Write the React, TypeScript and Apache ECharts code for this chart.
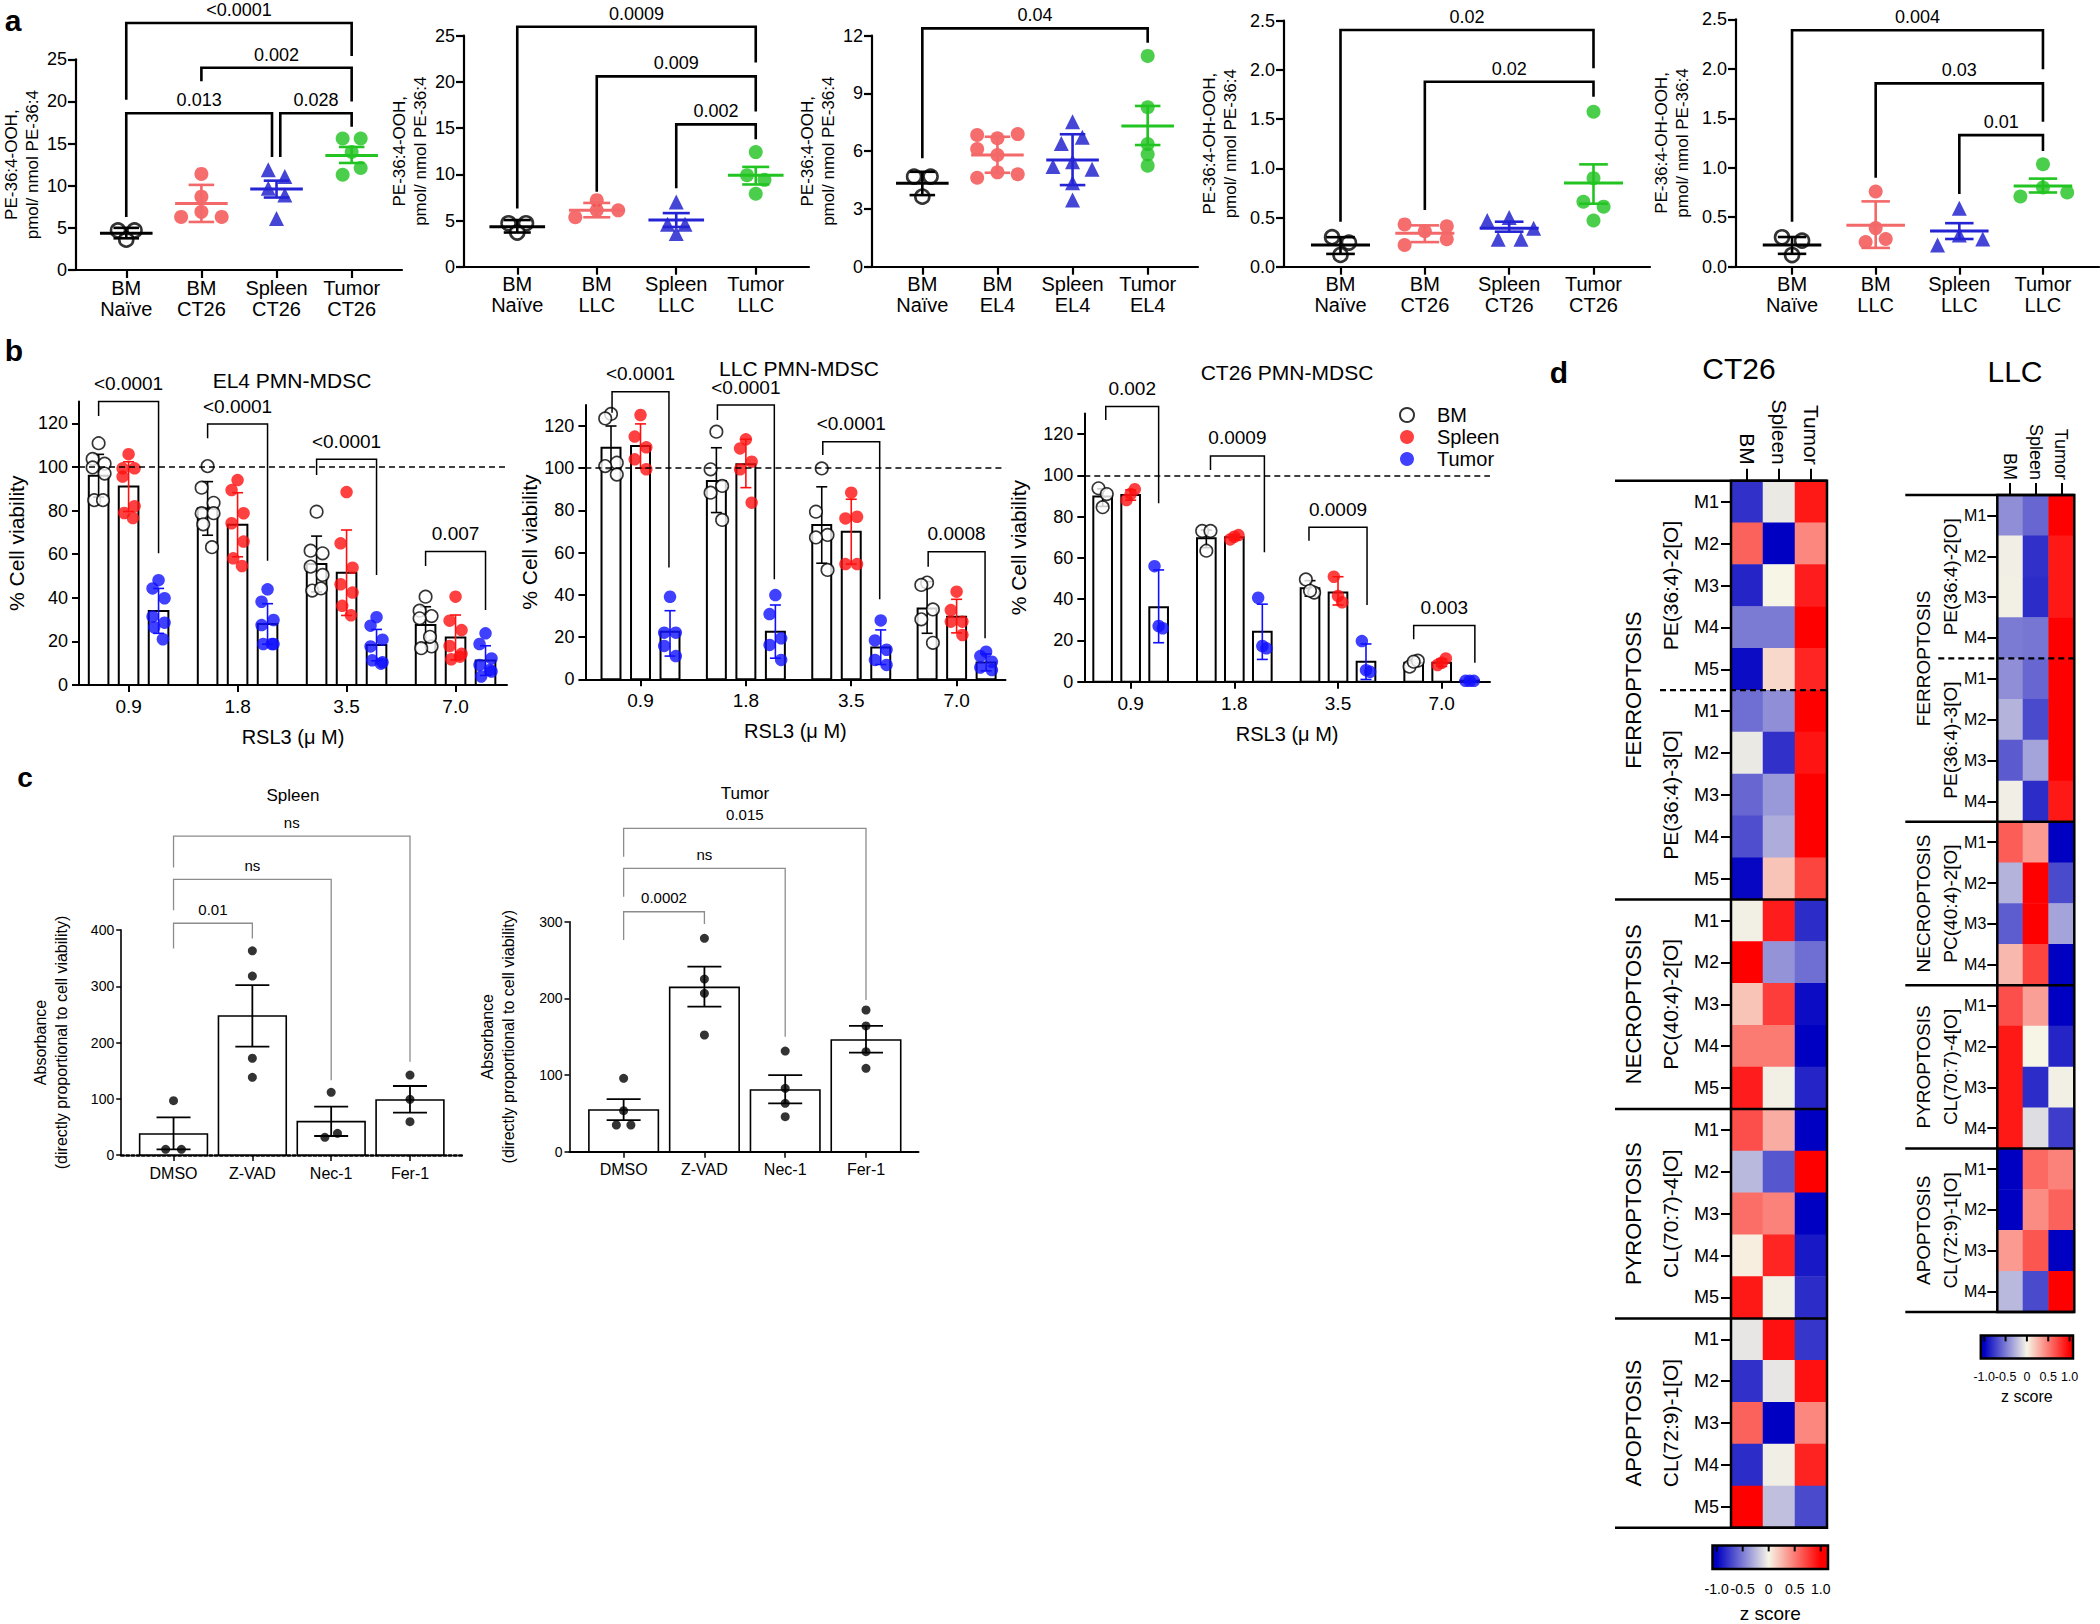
import React, { useEffect, useRef } from 'react';
import * as echarts from 'echarts';

const FF = '"Liberation Sans", Arial, Helvetica, sans-serif';
const font = (size: number, weight: string = 'normal') => `${weight} ${size}px ${FF}`;

// ================= Panel a data =================
const a1Cats = ['BM\nNaïve', 'BM\nCT26', 'Spleen\nCT26', 'Tumor\nCT26'];
const a1Points = [[4.7, 4.7, 3.6], [11.4, 8.7, 6.3, 6.9, 6.3], [11.9, 11.1, 9.7, 8.9, 6.1], [15.6, 15.6, 14.0, 11.3, 12.1]];
const a1Jitter = [[-0.11, 0.11, 0], [0, 0, -0.27, 0, 0.27], [-0.11, 0.11, -0.11, 0.11, 0], [-0.12, 0.12, 0, -0.12, 0.12]];
const a1Mean = [4.35, 7.9, 9.6, 13.6];
const a1Hi = [5.0, 10.1, 10.6, 14.6];
const a1Lo = [3.76, 5.7, 8.6, 12.7];
const a1Brackets = [[0, 3, 29.3, 20.2, 25.4], [1, 3, 24.0, 22.4, 20.0], [0, 1.94, 18.6, 6.3, 13.4], [2.05, 3, 18.6, 13.4, 17.0]];
const a1BracketLabels = ['<0.0001', '0.002', '0.013', '0.028'];

const a2Cats = ['BM\nNaïve', 'BM\nLLC', 'Spleen\nLLC', 'Tumor\nLLC'];
const a2Points = [[4.7, 4.7, 3.7], [5.35, 7.2, 6.1, 6.1], [7.0, 4.6, 4.6, 3.6], [12.4, 9.9, 9.4, 7.9]];
const a2Jitter = [[-0.11, 0.11, 0], [-0.27, 0, 0, 0.27], [0, -0.11, 0.11, 0], [0, -0.11, 0.11, 0]];
const a2Mean = [4.33, 6.1, 5.05, 9.9];
const a2Hi = [5.05, 6.9, 5.8, 10.8];
const a2Lo = [3.7, 5.35, 4.3, 8.9];
const a2Brackets = [[0, 3, 25.97, 6.3, 22.1], [1, 3, 20.6, 8.1, 16.8], [2, 3, 15.4, 8.5, 13.8]];
const a2BracketLabels = ['0.0009', '0.009', '0.002'];

const a3Cats = ['BM\nNaïve', 'BM\nEL4', 'Spleen\nEL4', 'Tumor\nEL4'];
const a3Points = [[4.68, 4.68, 3.64], [6.84, 6.67, 6.89, 6.11, 5.8, 4.62, 4.9, 4.8], [7.53, 6.4, 6.72, 5.2, 5.45, 5.06, 4.36, 3.46], [10.95, 8.28, 6.37, 5.84, 5.25]];
const a3Jitter = [[-0.11, 0.11, 0], [-0.27, 0, 0.27, -0.27, 0, -0.27, 0, 0.27], [0, -0.15, 0.13, -0.26, 0, 0.26, 0, 0], [0, 0, 0, 0, 0]];
const a3Mean = [4.33, 5.8, 5.54, 7.31];
const a3Hi = [4.93, 6.75, 6.88, 8.35];
const a3Lo = [3.72, 4.88, 4.24, 6.32];
const a3Brackets = [[0, 3, 12.38, 5.63, 11.64]];
const a3BracketLabels = ['0.04'];

const a4Cats = ['BM\nNaïve', 'BM\nCT26', 'Spleen\nCT26', 'Tumor\nCT26'];
const a4Points = [[0.30, 0.245, 0.12], [0.43, 0.22, 0.36, 0.41, 0.28], [0.47, 0.50, 0.39, 0.28, 0.28], [1.575, 0.90, 0.66, 0.61, 0.47]];
const a4Jitter = [[-0.1, 0.1, 0], [-0.24, -0.24, 0, 0.26, 0.26], [-0.26, 0, 0.29, -0.13, 0.14], [0, 0, -0.12, 0.12, 0]];
const a4Mean = [0.22, 0.34, 0.39, 0.85];
const a4Hi = [0.30, 0.42, 0.457, 1.04];
const a4Lo = [0.13, 0.25, 0.356, 0.64];
const a4Brackets = [[0, 3, 2.405, 0.457, 2.016], [1, 3, 1.88, 0.576, 1.728]];
const a4BracketLabels = ['0.02', '0.02'];

const a5Cats = ['BM\nNaïve', 'BM\nLLC', 'Spleen\nLLC', 'Tumor\nLLC'];
const a5Points = [[0.297, 0.263, 0.118], [0.76, 0.39, 0.25, 0.28], [0.59, 0.32, 0.22, 0.28], [1.035, 0.80, 0.71, 0.75]];
const a5Jitter = [[-0.12, 0.12, 0], [0, 0, -0.12, 0.12], [0, 0, -0.26, 0.28], [0, 0, -0.27, 0.29]];
const a5Mean = [0.22, 0.42, 0.36, 0.815];
const a5Hi = [0.30, 0.66, 0.44, 0.89];
const a5Lo = [0.13, 0.19, 0.28, 0.75];
const a5Brackets = [[0, 3, 2.39, 0.455, 1.995], [1, 3, 1.853, 0.90, 1.465], [2, 3, 1.33, 0.735, 1.17]];
const a5BracketLabels = ['0.004', '0.03', '0.01'];

// ================= Panel b data =================
const bDoses = ['0.9', '1.8', '3.5', '7.0'];
const bGroups = ['BM', 'Spleen', 'Tumor'];

const b1Points = [
  [[110.9, 103.7, 101.5, 99.8, 97, 84.8, 84.8], [100.4, 90.5, 83.6, 78.8, 78.8, 73.7, 63.2], [79.5, 61.6, 60.4, 54.3, 50.5, 43.3, 44.3], [40.5, 34.1, 31.6, 30.6, 17.7, 16.9, 22.1]],
  [[105.9, 99.4, 99.4, 95.6, 82, 78.9, 76.6], [94, 89.4, 78.8, 74.2, 65.8, 58.1, 54.6], [88.5, 65, 53.8, 46.2, 42.4, 36.3, 32], [40.5, 29.5, 25.2, 17.9, 14.3, 11.8, 13]],
  [[48.1, 44.3, 39.8, 31.4, 28.6, 26.5, 21], [43.9, 38.2, 29.8, 27.5, 18.8, 18.8, 18.8], [31.1, 27.2, 20.8, 17.7, 10.4, 11.3, 9.8], [23.7, 18.8, 12.2, 9.2, 6.2, 3.9, 6.9]],
];
const b1Mean = [[96, 81, 55.5, 27.5], [91, 73.5, 51.5, 21.8], [34, 28, 18.3, 11.2]];
const b1Hi = [[105.8, 93.3, 68.3, 35.9], [102.4, 88.2, 71.1, 32.1], [44.3, 37.3, 25.5, 18]];
const b1Lo = [[86.2, 68.7, 42.7, 19.1], [79.6, 58.8, 31.9, 11.5], [23.7, 18.7, 11.1, 4.4]];
const b1Brackets = [[-0.275, 0.275, 130, 123.4, 60.4], [0.725, 1.275, 119.7, 113.2, 57], [1.725, 2.275, 103.5, 96.3, 50.5], [2.725, 3.275, 61.2, 54.6, 34.4]];
const b1BracketLabels = ['<0.0001', '<0.0001', '<0.0001', '0.007'];

const b2Points = [
  [[125.7, 123.6, 102.6, 101, 97], [117.3, 99.5, 91.6, 88.4, 75.5], [99.9, 79.4, 68.4, 67.2, 51.8], [45.8, 44.7, 33.1, 28.4, 17.3]],
  [[125.2, 115, 109.9, 104.2, 99.5], [113.7, 109.4, 103.1, 99.5, 83.7], [88.4, 76.2, 77, 54.6, 54.6], [41.5, 32.8, 27.3, 27.3, 21]],
  [[39.1, 22.1, 22.1, 15.8, 11], [39.9, 30.9, 19.4, 16.3, 9.2], [27.9, 18.4, 14, 9.2, 6.8], [13.1, 11, 4.4, 5.6, 8.3]],
];
const b2Mean = [[109.7, 93.9, 73.1, 33.6], [110.5, 101.9, 69.9, 29.6], [22.5, 22.5, 15.1, 7.9]];
const b2Hi = [[120, 109.7, 91.2, 46.3], [121, 113.7, 85.3, 37.9], [32.5, 35.2, 23.4, 12]];
const b2Lo = [[99.4, 79, 55, 21.8], [100, 90.8, 54.6, 22], [11, 10, 7, 4]];
const b2Brackets = [[-0.27, 0.27, 136.2, 126.3, 53], [0.73, 1.27, 129.9, 122.8, 47.4], [1.73, 2.27, 112.6, 106.3, 37.9], [2.73, 3.27, 60.4, 53.3, 19.4]];
const b2BracketLabels = ['<0.0001', '<0.0001', '<0.0001', '0.0008'];

const b3Points = [
  [[93.8, 91, 84.6], [73.1, 73.1, 63.5], [49.6, 43.2, 44.1], [7.3, 10.2, 9.7]],
  [[88.1, 93.3, 91], [69, 71.1, 70.3], [50.9, 38.5, 41.6], [8.1, 11.3, 9.2]],
  [[56, 25.9, 27], [40.7, 16.2, 17.3], [19.7, 4.8, 5.6], [0.4, 0.4, 0.4]],
];
const b3Mean = [[89.8, 69.5, 45.3, 9.2], [90.5, 70, 43.3, 9.2], [36.1, 24.2, 9.7, 0.5]];
const b3Hi = [[93.5, 73.5, 49, 10.8], [93, 71.2, 50.9, 11], [54.2, 37.6, 18.3, 0.6]];
const b3Lo = [[85, 65, 41.5, 7.6], [88, 68.8, 37.2, 7.4], [18.9, 10.8, 1.1, 0.3]];
const b3Brackets = [[-0.24, 0.27, 133.4, 126.9, 86.5], [0.77, 1.29, 109.5, 102.7, 62.8], [1.72, 2.28, 74.9, 68.4, 37.2], [2.73, 3.32, 27.2, 20.6, 9.2]];
const b3BracketLabels = ['0.002', '0.0009', '0.0009', '0.003'];

// ================= Panel c data =================
const cCats = ['DMSO', 'Z-VAD', 'Nec-1', 'Fer-1'];
const c1Mean = [37.3, 247, 59.3, 97.8];
const c1Hi = [67, 302, 86, 122.7];
const c1Lo = [10, 192.6, 33.8, 75.3];
const c1Points = [[96.6, 10, 10], [363, 318, 172, 138], [111.4, 31.4, 38.5], [142, 99, 59.3]];
const c1Jitter = [[0, -0.1, 0.1], [0, 0, 0, 0], [0, -0.08, 0.08], [0, 0, 0]];
const c1Brackets = [[0, 3, 567, 511, 166], [0, 2, 490, 435, 133], [0, 1, 412, 367, 385]];
const c1BracketLabels = ['ns', 'ns', '0.01'];

const c2Mean = [54.4, 214.4, 80.5, 145.7];
const c2Hi = [68.7, 241.3, 100, 164];
const c2Lo = [41.3, 189.1, 63.1, 129.2];
const c2Points = [[95.7, 53.5, 34.8, 34.8], [278.3, 225.2, 206.6, 152.2], [131.3, 82.6, 63.1, 45.7], [184.8, 164, 130.4, 108.7]];
const c2Jitter = [[0, 0, -0.09, 0.09], [0, 0, 0, 0], [0, 0, 0, 0], [0, 0, 0, 0]];
const c2Brackets = [[0, 3, 421.8, 384.8, 197.9], [0, 2, 369.6, 332.6, 150], [0, 1, 313, 276, 297]];
const c2BracketLabels = ['0.015', 'ns', '0.0002'];

// ================= Panel d data =================
const hmCols = ['BM', 'Spleen', 'Tumor'];
const ct26Rows = ['M1', 'M2', 'M3', 'M4', 'M5', 'M1', 'M2', 'M3', 'M4', 'M5', 'M1', 'M2', 'M3', 'M4', 'M5', 'M1', 'M2', 'M3', 'M4', 'M5', 'M1', 'M2', 'M3', 'M4', 'M5'];
const ct26Values = [
  [-0.8, -0.05, 0.9], [0.6, -1.0, 0.45], [-0.85, 0.0, 0.88], [-0.5, -0.5, 1.0], [-0.95, 0.12, 0.85],
  [-0.55, -0.42, 1.0], [-0.05, -0.8, 0.92], [-0.58, -0.38, 1.0], [-0.68, -0.3, 1.0], [-0.97, 0.2, 0.72],
  [-0.02, 0.88, -0.82], [1.0, -0.4, -0.55], [0.2, 0.75, -0.95], [0.5, 0.5, -1.0], [0.88, -0.02, -0.85],
  [0.68, 0.3, -1.0], [-0.25, -0.65, 1.0], [0.55, 0.47, -1.0], [0.03, 0.85, -0.9], [0.9, -0.02, -0.82],
  [-0.06, 0.93, -0.78], [-0.8, -0.06, 0.93], [0.6, -1.0, 0.45], [-0.82, -0.03, 0.86], [1.0, -0.22, -0.7],
];
const ct26Groups: any[] = [
  [0, 10, 'FERROPTOSIS', 1], [10, 15, 'NECROPTOSIS', 1], [15, 20, 'PYROPTOSIS', 1], [20, 25, 'APOPTOSIS', 1],
  [0, 5, 'PE(36:4)-2[O]', 2], [5, 10, 'PE(36:4)-3[O]', 2], [10, 15, 'PC(40:4)-2[O]', 2], [15, 20, 'CL(70:7)-4[O]', 2], [20, 25, 'CL(72:9)-1[O]', 2],
];
const ct26Solid = [0, 10, 15, 20, 25];
const ct26Dashed = [5];

const llcRows = ['M1', 'M2', 'M3', 'M4', 'M1', 'M2', 'M3', 'M4', 'M1', 'M2', 'M3', 'M4', 'M1', 'M2', 'M3', 'M4', 'M1', 'M2', 'M3', 'M4'];
const llcValues = [
  [-0.42, -0.58, 1.0], [-0.03, -0.8, 0.9], [-0.02, -0.82, 0.9], [-0.5, -0.52, 1.0],
  [-0.42, -0.58, 1.0], [-0.27, -0.7, 1.0], [-0.63, -0.33, 1.0], [-0.03, -0.82, 0.9],
  [0.62, 0.37, -1.0], [-0.27, 1.0, -0.7], [-0.62, 1.0, -0.33], [0.25, 0.72, -1.0],
  [0.68, 0.35, -1.0], [0.9, 0.0, -0.85], [0.9, -0.82, -0.02], [0.9, -0.1, -0.75],
  [-1.0, 0.57, 0.47], [-1.0, 0.43, 0.6], [0.37, 0.65, -1.0], [-0.25, -0.7, 1.0],
];
const llcGroups: any[] = [
  [0, 8, 'FERROPTOSIS', 1], [8, 12, 'NECROPTOSIS', 1], [12, 16, 'PYROPTOSIS', 1], [16, 20, 'APOPTOSIS', 1],
  [0, 4, 'PE(36:4)-2[O]', 2], [4, 8, 'PE(36:4)-3[O]', 2], [8, 12, 'PC(40:4)-2[O]', 2], [12, 16, 'CL(70:7)-4[O]', 2], [16, 20, 'CL(72:9)-1[O]', 2],
];
const llcSolid = [0, 8, 12, 16, 20];
const llcDashed = [4];
const zTicks = [-1, -0.5, 0, 0.5, 1];

// ================= styles / layout =================
const A_COLORS = ['#000000', '#f24848', '#1616cc', '#1ec21e'];
const A_LINE_COLORS = ['#000000', '#f36868', '#2424d4', '#22c422'];
const A_SYMBOLS = ['circle', 'circle', 'triangle', 'circle'];
const A_XMIN = -0.67;
const A_XMAX = 3.67;
const A_LAYOUT = [
  { left: 75, top: 59.3, width: 327, height: 210.7, nameGap: 32 },
  { left: 464, top: 35.7, width: 345, height: 231, nameGap: 32 },
  { left: 872, top: 35.7, width: 326, height: 231, nameGap: 33 },
  { left: 1284, top: 20.7, width: 366, height: 246, nameGap: 43 },
  { left: 1736, top: 19.3, width: 363, height: 247.4, nameGap: 43 },
];
const B_COLORS = ['#000000', '#ff1010', '#1010ff'];
const B_LAYOUT = [
  { left: 79, top: 401.6, width: 428, height: 283.4, min: -0.455, max: 3.472, off: 0.275, nameGap: 52 },
  { left: 585.4, top: 404.9, width: 420.1, height: 274.4, min: -0.523, max: 3.464, off: 0.28, nameGap: 44 },
  { left: 1084.3, top: 413.6, width: 405.7, height: 268.1, min: -0.447, max: 3.466, off: 0.27, nameGap: 55 },
];
const B_JIT: any = { 3: [-0.04, 0.04, 0], 5: [0, -0.055, 0.055, -0.055, 0.055], 7: [0, -0.055, 0.055, -0.055, 0.055, -0.04, 0.04] };
const C_LAYOUT = [
  { left: 121.2, top: 930, width: 341.2, height: 225, min: -0.664, max: 3.665, nameGap: 49 },
  { left: 569.5, top: 921.7, width: 349, height: 230, min: -0.67, max: 3.65, nameGap: 51 },
];
const HM_BLUE = '#0000c2';
const HM_MID = '#f7f5e6';
const HM_RED = '#ff0000';

function buildOption() {
  const grids: any[] = [];
  const xAxis: any[] = [];
  const yAxis: any[] = [];
  const series: any[] = [];
  const graphic: any[] = [];

  const addGrid = (g: any, x: any, y: any) => {
    grids.push({ ...g, containLabel: false });
    const i = grids.length - 1;
    xAxis.push({ ...x, gridIndex: i });
    yAxis.push({ ...y, gridIndex: i });
    return i;
  };
  const axLine = (w: number, type: any = 'solid') => ({ show: true, onZero: false, lineStyle: { color: '#000', width: w, type } });
  const axTick = (len: number, w: number, extra: any = {}) => ({ show: true, length: len, lineStyle: { color: '#000', width: w }, ...extra });

  const bracketSeries = (gi: number, data: number[][], labels: string[], o: any) => ({
    type: 'custom', xAxisIndex: gi, yAxisIndex: gi, silent: true, z: 5, clip: false,
    data,
    renderItem: (params: any, api: any) => {
      const x1 = api.value(0), x2 = api.value(1), top = api.value(2), l = api.value(3), r = api.value(4);
      const pL = api.coord([x1, l]);
      const p1 = api.coord([x1, top]);
      const p2 = api.coord([x2, top]);
      const pR = api.coord([x2, r]);
      return {
        type: 'group',
        children: [
          { type: 'polyline', shape: { points: [pL, p1, p2, pR] }, style: { stroke: o.color, lineWidth: o.lw, fill: null } },
          {
            type: 'text', x: (p1[0] + p2[0]) / 2, y: p1[1] - o.gap,
            style: { text: labels[params.dataIndex], font: font(o.size), fill: '#000', align: 'center', verticalAlign: 'middle' },
          },
        ],
      };
    },
  });

  const errChildren = (ph: number[], pl: number[], cw: number, color: string, lw: number) => [
    { type: 'line', shape: { x1: ph[0], y1: ph[1], x2: pl[0], y2: pl[1] }, style: { stroke: color, lineWidth: lw } },
    { type: 'line', shape: { x1: ph[0] - cw, y1: ph[1], x2: ph[0] + cw, y2: ph[1] }, style: { stroke: color, lineWidth: lw } },
    { type: 'line', shape: { x1: pl[0] - cw, y1: pl[1], x2: pl[0] + cw, y2: pl[1] }, style: { stroke: color, lineWidth: lw } },
  ];

  const meanErrSeries = (gi: number, mean: number[], hi: number[], lo: number[]) => ({
    type: 'custom', xAxisIndex: gi, yAxisIndex: gi, silent: true, z: 4,
    data: mean.map((m, i) => [i, m, hi[i], lo[i]]),
    renderItem: (params: any, api: any) => {
      const x = api.value(0);
      const pm = api.coord([x, api.value(1)]);
      const ph = api.coord([x, api.value(2)]);
      const pl = api.coord([x, api.value(3)]);
      const u = api.coord([x + 1, 0])[0] - api.coord([x, 0])[0];
      const c = A_LINE_COLORS[params.dataIndex];
      return {
        type: 'group',
        children: [
          { type: 'line', shape: { x1: pm[0] - 0.35 * u, y1: pm[1], x2: pm[0] + 0.35 * u, y2: pm[1] }, style: { stroke: c, lineWidth: 3 } },
          ...errChildren(ph, pl, 0.17 * u, c, 2.6),
        ],
      };
    },
  });

  const barSeries = (gi: number, xs: number[], mean: number[], hi: number[], lo: number[], bw: number, errColor: string, capPx: number, barLw: number, errLw: number) => ({
    type: 'custom', xAxisIndex: gi, yAxisIndex: gi, silent: true, z: 2,
    data: mean.map((m, i) => [xs[i], m, hi[i], lo[i]]),
    renderItem: (params: any, api: any) => {
      const x = api.value(0), m = api.value(1);
      const p0 = api.coord([x - bw / 2, m]);
      const p1 = api.coord([x + bw / 2, 0]);
      const ph = api.coord([x, api.value(2)]);
      const pl = api.coord([x, api.value(3)]);
      return {
        type: 'group',
        children: [
          { type: 'rect', shape: { x: p0[0], y: p0[1], width: p1[0] - p0[0], height: p1[1] - p0[1] }, style: { fill: '#fff', stroke: '#000', lineWidth: barLw } },
          ...errChildren(ph, pl, capPx, errColor, errLw),
        ],
      };
    },
  });

  // ---------- panel a ----------
  const addA = (k: number, cats: string[], pts: number[][], jit: number[][], mean: number[], hi: number[], lo: number[],
    br: number[][], brl: string[], yMax: number, yInt: number, yName: string, dec: boolean) => {
    const L = A_LAYOUT[k];
    const gi = addGrid(
      { left: L.left, top: L.top, width: L.width, height: L.height },
      {
        type: 'value', min: A_XMIN, max: A_XMAX, axisLine: axLine(2.2), splitLine: { show: false },
        axisTick: axTick(8, 2.2, { customValues: [0, 1, 2, 3] }),
        axisLabel: { customValues: [0, 1, 2, 3], formatter: (v: number) => cats[Math.round(v)], color: '#000', fontFamily: FF, fontSize: 20, lineHeight: 21, margin: 7 },
      },
      {
        type: 'value', min: 0, max: yMax, interval: yInt, axisLine: axLine(2.2), axisTick: axTick(8, 2.2), splitLine: { show: false },
        axisLabel: { formatter: (v: number) => (dec ? v.toFixed(1) : String(v)), color: '#000', fontFamily: FF, fontSize: 18, margin: 9 },
        name: yName, nameLocation: 'middle', nameRotate: 90, nameGap: L.nameGap,
        nameTextStyle: { color: '#000', fontFamily: FF, fontSize: 17, lineHeight: 21 },
      }
    );
    pts.forEach((grp, g) => {
      series.push({
        type: 'scatter', xAxisIndex: gi, yAxisIndex: gi, silent: true, z: 3,
        symbol: A_SYMBOLS[g], symbolSize: g === 2 ? 15 : 14,
        itemStyle: g === 0 ? { color: '#fff', borderColor: '#000', borderWidth: 2.6 } : { color: A_COLORS[g] },
        data: grp.map((v, j) => [g + jit[g][j], v]),
      });
    });
    series.push(meanErrSeries(gi, mean, hi, lo));
    series.push(bracketSeries(gi, br, brl, { lw: 2.6, color: '#000', size: 18, gap: 13 }));
  };
  const aName1 = 'PE-36:4-OOH,\npmol/ nmol PE-36:4';
  const aName2 = 'PE-36:4-OH-OOH,\npmol/ nmol PE-36:4';
  addA(0, a1Cats, a1Points, a1Jitter, a1Mean, a1Hi, a1Lo, a1Brackets, a1BracketLabels, 25, 5, aName1, false);
  addA(1, a2Cats, a2Points, a2Jitter, a2Mean, a2Hi, a2Lo, a2Brackets, a2BracketLabels, 25, 5, aName1, false);
  addA(2, a3Cats, a3Points, a3Jitter, a3Mean, a3Hi, a3Lo, a3Brackets, a3BracketLabels, 12, 3, aName1, false);
  addA(3, a4Cats, a4Points, a4Jitter, a4Mean, a4Hi, a4Lo, a4Brackets, a4BracketLabels, 2.5, 0.5, aName2, true);
  addA(4, a5Cats, a5Points, a5Jitter, a5Mean, a5Hi, a5Lo, a5Brackets, a5BracketLabels, 2.5, 0.5, aName2, true);

  // ---------- panel b ----------
  const addB = (k: number, pts: number[][][], mean: number[][], hi: number[][], lo: number[][], br: number[][], brl: string[]) => {
    const L = B_LAYOUT[k];
    const yTicks = [0, 20, 40, 60, 80, 100, 120];
    const gi = addGrid(
      { left: L.left, top: L.top, width: L.width, height: L.height },
      {
        type: 'value', min: L.min, max: L.max, axisLine: axLine(2), splitLine: { show: false },
        axisTick: axTick(7, 2, { customValues: [0, 1, 2, 3] }),
        axisLabel: { customValues: [0, 1, 2, 3], formatter: (v: number) => bDoses[Math.round(v)], color: '#000', fontFamily: FF, fontSize: 19, margin: 12 },
        name: 'RSL3 (μ M)', nameLocation: 'middle', nameGap: 42, nameTextStyle: { color: '#000', fontFamily: FF, fontSize: 20 },
      },
      {
        type: 'value', min: 0, max: 130, axisLine: axLine(2), splitLine: { show: false },
        axisTick: axTick(7, 2, { customValues: yTicks }),
        axisLabel: { customValues: yTicks, color: '#000', fontFamily: FF, fontSize: 18, margin: 11 },
        name: '% Cell viability', nameLocation: 'middle', nameRotate: 90, nameGap: L.nameGap,
        nameTextStyle: { color: '#000', fontFamily: FF, fontSize: 21 },
      }
    );
    for (let c = 0; c < 3; c++) {
      const xs = mean[c].map((_, d) => d + (c - 1) * L.off);
      series.push(barSeries(gi, xs, mean[c], hi[c], lo[c], 0.18, B_COLORS[c], 5.5, 2, 1.6));
    }
    for (let c = 0; c < 3; c++) {
      const data: number[][] = [];
      pts[c].forEach((arr, d) => {
        const jit = B_JIT[arr.length] || arr.map(() => 0);
        arr.forEach((v, j) => data.push([d + (c - 1) * L.off + jit[j], v]));
      });
      const s: any = {
        type: 'scatter', name: bGroups[c], xAxisIndex: gi, yAxisIndex: gi, silent: true, z: 3,
        symbol: 'circle', symbolSize: 12.5,
        itemStyle: c === 0 ? { color: '#fff', borderColor: '#000', borderWidth: 1.6 } : { color: B_COLORS[c] },
        data,
      };
      if (c === 0) {
        s.markLine = {
          silent: true, symbol: 'none', label: { show: false }, animation: false,
          lineStyle: { type: [6, 4], color: '#000', width: 1.6 },
          data: [{ yAxis: 100 }],
        };
      }
      series.push(s);
    }
    series.push(bracketSeries(gi, br, brl, { lw: 1.5, color: '#000', size: 19, gap: 18 }));
  };
  addB(0, b1Points, b1Mean, b1Hi, b1Lo, b1Brackets, b1BracketLabels);
  addB(1, b2Points, b2Mean, b2Hi, b2Lo, b2Brackets, b2BracketLabels);
  addB(2, b3Points, b3Mean, b3Hi, b3Lo, b3Brackets, b3BracketLabels);

  // ---------- panel c ----------
  const addC = (k: number, yMax: number, mean: number[], hi: number[], lo: number[], pts: number[][], jit: number[][], br: number[][], brl: string[], dotted: boolean) => {
    const L = C_LAYOUT[k];
    const gi = addGrid(
      { left: L.left, top: L.top, width: L.width, height: L.height },
      {
        type: 'value', min: L.min, max: L.max, axisLine: axLine(dotted ? 2.6 : 2, dotted ? 'dotted' : 'solid'), splitLine: { show: false },
        axisTick: axTick(6, 1.5, { customValues: [0, 1, 2, 3] }),
        axisLabel: { customValues: [0, 1, 2, 3], formatter: (v: number) => cCats[Math.round(v)], color: '#000', fontFamily: FF, fontSize: 16, margin: 10 },
      },
      {
        type: 'value', min: 0, max: yMax, interval: 100, axisLine: axLine(1.6), axisTick: axTick(5, 1.5), splitLine: { show: false },
        axisLabel: { color: '#000', fontFamily: FF, fontSize: 14, margin: 7 },
        name: 'Absorbance\n(directly proportional to cell viability)', nameLocation: 'middle', nameRotate: 90, nameGap: L.nameGap,
        nameTextStyle: { color: '#000', fontFamily: FF, fontSize: 16, lineHeight: 21 },
      }
    );
    series.push(barSeries(gi, [0, 1, 2, 3], mean, hi, lo, 0.86, '#000', 17, 1.6, 1.8));
    series.push({
      type: 'scatter', xAxisIndex: gi, yAxisIndex: gi, silent: true, z: 3, symbol: 'circle', symbolSize: 9,
      itemStyle: { color: '#000' },
      data: pts.flatMap((arr, g) => arr.map((v, j) => [g + jit[g][j], v])),
    });
    series.push(bracketSeries(gi, br, brl, { lw: 1.3, color: '#8c8c8c', size: 15, gap: 14 }));
  };
  addC(0, 400, c1Mean, c1Hi, c1Lo, c1Points, c1Jitter, c1Brackets, c1BracketLabels, true);
  addC(1, 300, c2Mean, c2Hi, c2Lo, c2Points, c2Jitter, c2Brackets, c2BracketLabels, false);

  // ---------- panel d ----------
  const hmSeriesIdx: number[] = [];
  const addHeatmap = (g: any, rows: string[], values: number[][], groups: any[], solid: number[], dashed: number[], o: any) => {
    const n = rows.length;
    const gi = addGrid(
      g,
      {
        type: 'category', data: hmCols, position: 'top', axisLine: { show: false }, splitLine: { show: false },
        axisTick: { show: true, alignWithLabel: true, length: o.colTick, lineStyle: { color: '#000', width: 2 } },
        axisLabel: { rotate: 90, color: '#000', fontFamily: FF, fontSize: o.colFont, margin: o.colMargin },
      },
      {
        type: 'category', inverse: true, data: rows.map((_, i) => String(i)), axisLine: { show: false }, splitLine: { show: false },
        axisTick: { show: true, alignWithLabel: true, length: 10, lineStyle: { color: '#000', width: 2 } },
        axisLabel: { formatter: (v: string) => rows[+v], color: '#000', fontFamily: FF, fontSize: o.rowFont, margin: o.rowMargin },
      }
    );
    hmSeriesIdx.push(series.length);
    series.push({
      type: 'heatmap', xAxisIndex: gi, yAxisIndex: gi, silent: true,
      itemStyle: { borderWidth: 0 },
      data: values.flatMap((row, r) => row.map((v, c) => [c, r, v])),
    });
    series.push({
      type: 'custom', xAxisIndex: gi, yAxisIndex: gi, silent: true, z: 5, clip: false,
      data: [[0, 0]],
      renderItem: (params: any, api: any) => {
        const cs = params.coordSys;
        const h = api.size([0, 1])[1];
        const bY = (b: number) => (b < n ? api.coord([0, b])[1] - h / 2 : api.coord([0, n - 1])[1] + h / 2);
        const right = cs.x + cs.width;
        const children: any[] = [];
        children.push({ type: 'rect', shape: { x: cs.x, y: cs.y, width: cs.width, height: cs.height }, style: { fill: null, stroke: '#000', lineWidth: 2.5 } });
        solid.forEach((b) => children.push({ type: 'line', shape: { x1: cs.x - o.sepLeft, y1: bY(b), x2: right, y2: bY(b) }, style: { stroke: '#000', lineWidth: 2.5 } }));
        dashed.forEach((b) => children.push({ type: 'line', shape: { x1: cs.x - o.dashLeft, y1: bY(b), x2: right, y2: bY(b) }, style: { stroke: '#000', lineWidth: 2.2, lineDash: [6, 4] } }));
        groups.forEach((gr: any) => {
          const lvl = gr[3];
          children.push({
            type: 'text', x: cs.x - (lvl === 1 ? o.l1 : o.l2), y: (bY(gr[0]) + bY(gr[1])) / 2, rotation: Math.PI / 2,
            style: { text: gr[2], font: font(lvl === 1 ? o.f1 : o.f2), fill: '#000', align: 'center', verticalAlign: 'middle' },
          });
        });
        return { type: 'group', children };
      },
    });
  };
  addHeatmap({ left: 1731, top: 480.8, width: 96, height: 1047 }, ct26Rows, ct26Values, ct26Groups, ct26Solid, ct26Dashed,
    { colTick: 12, colFont: 21, colMargin: 16, rowFont: 18, rowMargin: 12, sepLeft: 116, dashLeft: 71, l1: 98, l2: 61, f1: 22, f2: 21 });
  addHeatmap({ left: 1997.3, top: 495, width: 77, height: 817 }, llcRows, llcValues, llcGroups, llcSolid, llcDashed,
    { colTick: 12, colFont: 18, colMargin: 15, rowFont: 16, rowMargin: 11, sepLeft: 92, dashLeft: 59, l1: 74, l2: 47, f1: 19, f2: 19 });

  const addColorbar = (g: any, min: number, max: number, labFont: number, nameFont: number, labMargin: number, nameGap: number) => {
    const gi = addGrid(
      g,
      {
        type: 'value', min, max, axisLine: { show: false }, axisTick: { show: false }, splitLine: { show: false },
        axisLabel: { customValues: zTicks, formatter: (v: number) => (v === 0 ? '0' : v.toFixed(1)), color: '#000', fontFamily: FF, fontSize: labFont, margin: labMargin },
        name: 'z score', nameLocation: 'middle', nameGap, nameTextStyle: { color: '#000', fontFamily: FF, fontSize: nameFont },
      },
      { type: 'value', min: 0, max: 1, show: false }
    );
    series.push({
      type: 'custom', xAxisIndex: gi, yAxisIndex: gi, silent: true, z: 5,
      data: [[0, 0.5]],
      renderItem: (params: any, api: any) => {
        const cs = params.coordSys;
        const off = (v: number) => (v - min) / (max - min);
        const grad = new echarts.graphic.LinearGradient(0, 0, 1, 0, [
          { offset: 0, color: HM_BLUE }, { offset: off(-1), color: HM_BLUE }, { offset: off(0), color: HM_MID },
          { offset: off(1), color: HM_RED }, { offset: 1, color: HM_RED },
        ]);
        const children: any[] = [
          { type: 'rect', shape: { x: cs.x, y: cs.y, width: cs.width, height: cs.height }, style: { fill: grad, stroke: '#000', lineWidth: 2.5 } },
        ];
        zTicks.forEach((v) => {
          const px = api.coord([v, 0])[0];
          children.push({ type: 'line', shape: { x1: px, y1: cs.y, x2: px, y2: cs.y + 6 }, style: { stroke: '#000', lineWidth: 2 } });
        });
        return { type: 'group', children };
      },
    });
  };
  addColorbar({ left: 1712.5, top: 1545.4, width: 115.5, height: 24 }, -1.08, 1.14, 14, 19, 13, 35);
  addColorbar({ left: 1980.8, top: 1335.4, width: 92.2, height: 23 }, -1.08, 1.08, 12.5, 16, 12, 30);

  // ---------- titles and panel letters ----------
  const txt = (text: string, x: number, y: number, size: number, weight: string = 'normal') => ({
    type: 'text', x, y, silent: true,
    style: { text, font: font(size, weight), fill: '#000', align: 'center', verticalAlign: 'middle' },
  });
  graphic.push(
    txt('a', 13, 20, 30, 'bold'),
    txt('b', 14, 350, 30, 'bold'),
    txt('c', 25, 777, 28, 'bold'),
    txt('d', 1559, 372, 30, 'bold'),
    txt('EL4 PMN-MDSC', 292, 380, 21),
    txt('LLC PMN-MDSC', 799, 368, 21),
    txt('CT26 PMN-MDSC', 1287, 372, 21),
    txt('Spleen', 293, 795, 17),
    txt('Tumor', 745, 793, 17),
    txt('CT26', 1739, 368, 30),
    txt('LLC', 2015, 371, 30),
  );

  return {
    animation: false,
    backgroundColor: '#fff',
    textStyle: { fontFamily: FF },
    grid: grids,
    xAxis,
    yAxis,
    series,
    graphic,
    visualMap: [{
      type: 'continuous', show: false, min: -1, max: 1, seriesIndex: hmSeriesIdx, dimension: 2,
      inRange: { color: [HM_BLUE, HM_MID, HM_RED] },
    }],
    legend: [{
      data: bGroups, orient: 'vertical', left: 1394, top: 399, itemWidth: 14, itemHeight: 14, itemGap: 0,
      selectedMode: false, icon: 'circle',
      textStyle: { color: '#000', fontFamily: FF, fontSize: 20, lineHeight: 22, padding: [0, 0, 0, 18] },
    }],
  };
}

export default function App() {
  const ref = useRef<HTMLDivElement>(null);
  useEffect(() => {
    const chart = echarts.init(ref.current as HTMLDivElement, null, { renderer: 'svg' });
    chart.setOption(buildOption() as any);
    return () => chart.dispose();
  }, []);
  return <div ref={ref} style={{ position: 'absolute', left: 0, top: 0, width: 2100, height: 1624, background: '#fff' }} />;
}
